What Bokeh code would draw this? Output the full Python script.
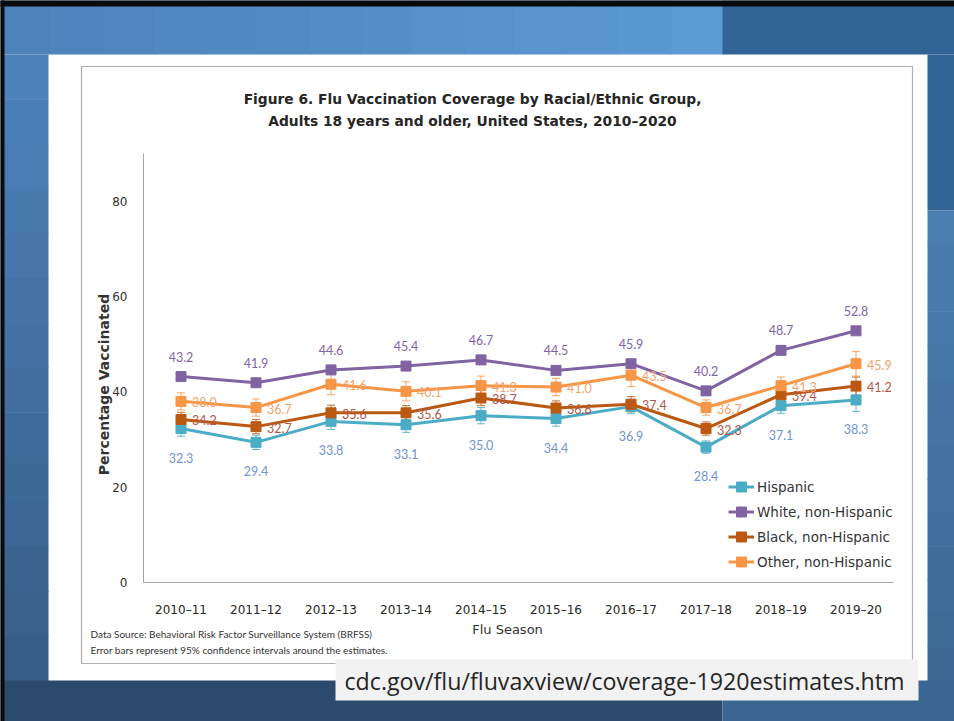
from bokeh.plotting import figure
from bokeh.models import (Range1d, FixedTicker, Legend, LegendItem,
                          Whisker, TeeHead, ColumnDataSource)
from bokeh.core.properties import value
from bokeh.embed import file_html
from bokeh.resources import INLINE

# ---------------- data ----------------
seasons = ["2010–11", "2011–12", "2012–13", "2013–14", "2014–15",
           "2015–16", "2016–17", "2017–18", "2018–19", "2019–20"]
hispanic = [32.3, 29.4, 33.8, 33.1, 35.0, 34.4, 36.9, 28.4, 37.1, 38.3]
white = [43.2, 41.9, 44.6, 45.4, 46.7, 44.5, 45.9, 40.2, 48.7, 52.8]
black = [34.2, 32.7, 35.6, 35.6, 38.7, 36.6, 37.4, 32.3, 39.4, 41.2]
other = [38.0, 36.7, 41.6, 40.1, 41.3, 41.0, 43.5, 36.7, 41.3, 45.9]
# half-width of 95% confidence intervals
hispanic_ci = [1.6, 1.5, 1.7, 1.6, 1.7, 1.6, 1.5, 1.3, 1.6, 2.4]
white_ci = [0.4, 0.4, 0.4, 0.4, 0.4, 0.4, 0.4, 0.4, 0.5, 0.5]
black_ci = [1.5, 1.5, 1.6, 1.5, 1.6, 1.5, 1.6, 1.4, 1.6, 1.9]
other_ci = [1.8, 1.8, 2.2, 2.0, 2.0, 1.8, 2.4, 1.6, 1.8, 2.6]
series_names = ["Hispanic", "White, non-Hispanic", "Black, non-Hispanic", "Other, non-Hispanic"]
y_ticks = [0, 20, 40, 60, 80]

title_lines = ["Figure 6. Flu Vaccination Coverage by Racial/Ethnic Group,",
               "Adults 18 years and older, United States, 2010–2020"]
y_title = "Percentage Vaccinated"
x_title = "Flu Season"
footnotes = ["Data Source: Behavioral Risk Factor Surveillance System (BRFSS)",
             "Error bars represent 95% confidence intervals around the estimates."]
url_text = "cdc.gov/flu/fluvaxview/coverage-1920estimates.htm"

# category positions (one slot per season)
xpos = [i + 0.5 for i in range(len(seasons))]

# ---------------- figure ----------------
W, H = 954, 721
FL, FR, FT, FB = 143, 893, 153, 582      # plot frame in picture pixels
p = figure(width=W, height=H, x_range=Range1d(0, len(seasons)), y_range=Range1d(0, 90),
           output_backend="svg", toolbar_location=None,
           min_border_left=FL, min_border_right=W - FR,
           min_border_top=FT, min_border_bottom=H - FB)
p.background_fill_color = "white"
p.border_fill_color = "white"
p.outline_line_color = None
p.xgrid.visible = False
p.ygrid.visible = False

# pixel ranges matching the picture coordinates
p.extra_x_ranges = {"px": Range1d(FL, FR)}
p.extra_y_ranges = {"px": Range1d(FB, FT)}

# axes
p.yaxis.ticker = FixedTicker(ticks=y_ticks)
p.yaxis.major_tick_line_color = None
p.yaxis.minor_tick_line_color = None
p.yaxis.axis_line_color = "#a6a6a6"
p.yaxis.major_label_standoff = 10
p.yaxis.major_label_text_font = "DejaVu Sans"
p.yaxis.major_label_text_font_size = "12px"
p.yaxis.major_label_text_color = "#333333"

p.xaxis.ticker = FixedTicker(ticks=xpos)
p.xaxis.major_label_overrides = {x: s for x, s in zip(xpos, seasons)}
p.xaxis.major_tick_line_color = None
p.xaxis.minor_tick_line_color = None
p.xaxis.axis_line_color = "#a6a6a6"
p.xaxis.major_label_standoff = 14
p.xaxis.major_label_text_font = "DejaVu Sans"
p.xaxis.major_label_text_font_size = "12px"
p.xaxis.major_label_text_color = "#262626"

# ---------------- series ----------------
styles = [
    # line colour, label colour, label placement
    ("#4bacc6", "#7094d2", "below"),
    ("#8064a2", "#7f64a8", "above"),
    ("#bb5812", "#b0584a", "right"),
    ("#f79646", "#f2a46a", "right"),
]
vals = [hispanic, white, black, other]
cis = [hispanic_ci, white_ci, black_ci, other_ci]

items = []
for name, v, ci, (col, lcol, place) in zip(series_names, vals, cis, styles):
    src = ColumnDataSource(dict(
        x=xpos, season=seasons, val=v,
        lower=[a - b for a, b in zip(v, ci)],
        upper=[a + b for a, b in zip(v, ci)],
        label=["%.1f" % a for a in v]))
    wh = Whisker(base="x", upper="upper", lower="lower", source=src,
                 line_color=col, line_width=1, line_alpha=0.85,
                 upper_head=TeeHead(size=8, line_color=col, line_width=1, line_alpha=0.85),
                 lower_head=TeeHead(size=8, line_color=col, line_width=1, line_alpha=0.85))
    p.add_layout(wh)
    lr = p.line(x="x", y="val", source=src, line_color=col, line_width=3)
    sr = p.scatter(x="x", y="val", source=src, marker="square", size=10,
                   fill_color=col, line_color=col)
    items.append(LegendItem(label=name, renderers=[lr, sr]))
    if place == "above":
        kw = dict(x_offset=0, y_offset=-20, text_align="center")
    elif place == "below":
        kw = dict(x_offset=0, y_offset=29, text_align="center")
    else:
        kw = dict(x_offset=11, y_offset=1, text_align="left")
    p.text(x="x", y="val", text="label", source=src, text_color=lcol,
           text_font=value("Lato"), text_font_size="12.5px",
           text_baseline="middle", **kw)

legend = Legend(items=items, location=(585, 8), orientation="vertical",
                padding=0, margin=0, spacing=0, label_height=25, glyph_height=25,
                glyph_width=26, label_standoff=3,
                label_text_font="DejaVu Sans", label_text_font_size="13.5px",
                label_text_color="#333333",
                background_fill_alpha=0, border_line_color=None)
p.add_layout(legend)

# ---------------- slide decoration ----------------
def mix(c1, c2, t):
    a = [int(c1[i:i + 2], 16) for i in (1, 3, 5)]
    b = [int(c2[i:i + 2], 16) for i in (1, 3, 5)]
    return "#%02x%02x%02x" % tuple(round(x + (y - x) * t) for x, y in zip(a, b))

bl, br, bt, bb, bc = [], [], [], [], []
def box(l, r, t, b, c):
    bl.append(l); br.append(r); bt.append(t); bb.append(b); bc.append(c)

n = 14
for i in range(n):  # top band, left part
    box(0 + i * 722 / n, (i + 1) * 722 / n + 0.6, 0, 54, mix("#4d82bb", "#5b9ad3", i / (n - 1)))
box(722, 960, 0, 54, "#306497")
for i in range(n):  # left strip
    box(0, 48, 54 + i * 626 / n, 54 + (i + 1) * 626 / n + 0.6, mix("#4c81ba", "#375e88", i / (n - 1)))
box(927, 960, 54, 210, "#306497")
for i in range(n):  # right strip lower part
    box(927, 960, 210 + i * 470 / n, 210 + (i + 1) * 470 / n + 0.6, mix("#4a7db2", "#3d6994", i / (n - 1)))
box(0, 722, 680, 730, "#2c4a6b")
box(722, 960, 680, 730, "#3b6691")
box(0, 960, 0, 6, "#0a0a0a")     # dark top edge
box(0, 4, 0, 730, "#0a0a0a")     # dark left edge

p.quad(left=bl, right=br, top=bt, bottom=bb, fill_color=bc, line_color=None,
       x_range_name="px", y_range_name="px", level="overlay")
# thin grey frame of the inner picture
p.quad(left=[81], right=[912], top=[66], bottom=[663], fill_color=None,
       line_color="#b0b0b0", line_width=1.2,
       x_range_name="px", y_range_name="px", level="overlay")
# url box
p.quad(left=[335], right=[918], top=[659], bottom=[700], fill_color="#f2f2f2",
       line_color=None, x_range_name="px", y_range_name="px", level="overlay")

# ---------------- texts (drawn on pixel ranges) ----------------
def txt(x, y, text, font, size, color, align="left", style="normal", angle=0.0):
    p.text(x=[x], y=[y], text=[text], x_range_name="px", y_range_name="px",
           level="overlay", text_font=value(font), text_font_size=size,
           text_font_style=style, text_color=color, text_align=align,
           text_baseline="middle", angle=angle)

txt(472, 98, title_lines[0], "DejaVu Sans", "13.8px", "#262626", "center", "bold")
txt(472, 120, title_lines[1], "DejaVu Sans", "13.8px", "#262626", "center", "bold")
txt(103, 384, y_title, "DejaVu Sans", "14px", "#333333", "center", "bold", 1.5707963)
txt(507, 629, x_title, "DejaVu Sans", "13px", "#333333", "center")
txt(90, 633, footnotes[0], "Lato", "10px", "#333333")
txt(90, 649, footnotes[1], "Lato", "10px", "#333333")
txt(344, 680, url_text, "Open Sans", "23.2px", "#262626")

open("out.html", "w").write(file_html(p, INLINE))
